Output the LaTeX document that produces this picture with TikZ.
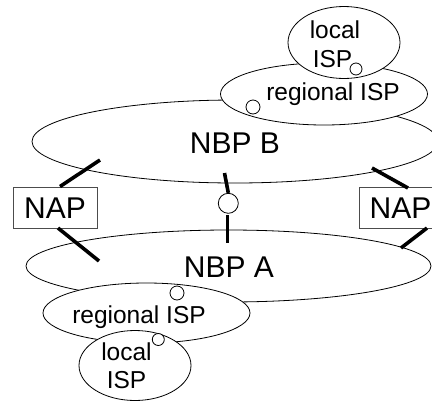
\documentclass[tikz,border=0pt]{standalone}
\usepackage{fontspec}
\setmainfont{Liberation Sans}
\usetikzlibrary{shapes.geometric}
\begin{document}
\begin{tikzpicture}[x=1pt,y=-1pt,
  cloud/.style={draw=black,fill=white,ellipse,inner sep=0pt,line width=0.8pt},
  port/.style={draw=black,fill=white,circle,inner sep=0pt,line width=0.8pt},
  napbox/.style={draw=black!70,fill=white,rectangle,inner sep=0pt,line width=0.8pt,minimum width=84pt,minimum height=41pt},
  link/.style={line width=3.6pt,black},
  big/.style={font=\fontsize{30}{36}\selectfont,anchor=base,inner sep=0pt},
  small/.style={font=\fontsize{24.5}{29}\selectfont,anchor=base,inner sep=0pt}]
\useasboundingbox (0,0) rectangle (432,400);
\clip (0,0) rectangle (432,400);
% upper group
\node[cloud,minimum width=406pt,minimum height=83pt] (nbpb) at (235,141.5) {};
\node[cloud,minimum width=207pt,minimum height=62pt] (regt) at (324,94) {};
\node[cloud,minimum width=112pt,minimum height=72pt] (loct) at (344,42.5) {};
\node[port,minimum size=12pt] (pl1) at (356,69) {};
\node[port,minimum size=14pt] (pr1) at (253,107) {};
% lower group
\node[cloud,minimum width=405pt,minimum height=72pt] (nbpa) at (228.5,266) {};
\node[cloud,minimum width=207pt,minimum height=60pt] (regb) at (146.5,313) {};
\node[cloud,minimum width=112pt,minimum height=70pt] (locb) at (135,365.5) {};
\node[port,minimum size=14pt] (pr2) at (177,293) {};
\node[port,minimum size=12pt] (pl2) at (158.3,339.5) {};
% NAPs and middle peering point
\node[napbox] (napl) at (55,207.5) {};
\node[napbox] (napr) at (401,208) {};
\node[port,minimum size=20pt] (peer) at (228.3,203.3) {};
% labels
\node[big] (tb) at (235,153) {NBP B};
\node[big] (ta) at (229,277) {NBP A};
\node[big] (tnl) at (55,218) {NAP};
\node[big] (tnr) at (400.5,218) {NAP};
\node[small] (trt) at (333,100) {regional ISP};
\node[small] (tlt1) at (335,38) {local};
\node[small] (tlt2) at (332.5,67) {ISP};
\node[small] (trb) at (139,323) {regional ISP};
\node[small] (tlb1) at (126.5,360) {local};
\node[small] (tlb2) at (126.5,388) {ISP};
% link end points
\coordinate (a1) at (100,160);
\coordinate (a2) at (60,186.5);
\coordinate (b1) at (224.5,173);
\coordinate (c1) at (372,168);
\coordinate (c2) at (408,188);
\coordinate (d1) at (58,228);
\coordinate (d2) at (99,261);
\coordinate (e2) at (227.3,243);
\coordinate (f1) at (427,228);
\coordinate (f2) at (401,248);
\draw[link] (a1) -- (a2);
\draw[link] (b1) -- (peer.north);
\draw[link] (c1) -- (c2);
\draw[link] (d1) -- (d2);
\draw[link] (peer.south) ++(-1,1.5) -- (e2);
\draw[link] (f1) -- (f2);
\end{tikzpicture}
\end{document}
